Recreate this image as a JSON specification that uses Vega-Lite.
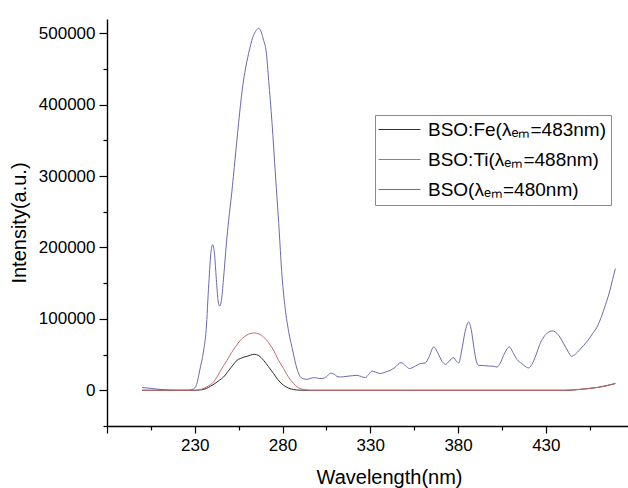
{
  "$schema": "https://vega.github.io/schema/vega-lite/v6.json",
  "width": 521,
  "height": 407,
  "autosize": {"type": "none"},
  "padding": {"left": 107, "top": 19, "right": 0, "bottom": 62},
  "background": "white",
  "config": {
    "view": {"stroke": null},
    "font": "Liberation Sans",
    "axis": {"domainColor": "#000", "domainWidth": 1.4, "tickColor": "#000", "tickWidth": 1.2, "grid": false, "labelColor": "#000", "titleColor": "#000", "labelFont": "Liberation Sans", "titleFont": "Liberation Sans", "titleFontWeight": "normal"}
  },
  "datasets": {
    "spectra": [
      {"wl": 200, "v": 3800, "s": "BSO(λₑₘ=480nm)"},
      {"wl": 204, "v": 3000, "s": "BSO(λₑₘ=480nm)"},
      {"wl": 208, "v": 1800, "s": "BSO(λₑₘ=480nm)"},
      {"wl": 212, "v": 800, "s": "BSO(λₑₘ=480nm)"},
      {"wl": 216, "v": 300, "s": "BSO(λₑₘ=480nm)"},
      {"wl": 220, "v": 100, "s": "BSO(λₑₘ=480nm)"},
      {"wl": 226, "v": 100, "s": "BSO(λₑₘ=480nm)"},
      {"wl": 229, "v": 1500, "s": "BSO(λₑₘ=480nm)"},
      {"wl": 231, "v": 8000, "s": "BSO(λₑₘ=480nm)"},
      {"wl": 233, "v": 30000, "s": "BSO(λₑₘ=480nm)"},
      {"wl": 235, "v": 55000, "s": "BSO(λₑₘ=480nm)"},
      {"wl": 236.5, "v": 85000, "s": "BSO(λₑₘ=480nm)"},
      {"wl": 238, "v": 150000, "s": "BSO(λₑₘ=480nm)"},
      {"wl": 239.3, "v": 195000, "s": "BSO(λₑₘ=480nm)"},
      {"wl": 240.2, "v": 204000, "s": "BSO(λₑₘ=480nm)"},
      {"wl": 241.2, "v": 192000, "s": "BSO(λₑₘ=480nm)"},
      {"wl": 242.3, "v": 155000, "s": "BSO(λₑₘ=480nm)"},
      {"wl": 243.3, "v": 125000, "s": "BSO(λₑₘ=480nm)"},
      {"wl": 244.2, "v": 118000, "s": "BSO(λₑₘ=480nm)"},
      {"wl": 245.3, "v": 128000, "s": "BSO(λₑₘ=480nm)"},
      {"wl": 246.5, "v": 160000, "s": "BSO(λₑₘ=480nm)"},
      {"wl": 248, "v": 205000, "s": "BSO(λₑₘ=480nm)"},
      {"wl": 249.3, "v": 238000, "s": "BSO(λₑₘ=480nm)"},
      {"wl": 251, "v": 275000, "s": "BSO(λₑₘ=480nm)"},
      {"wl": 253, "v": 325000, "s": "BSO(λₑₘ=480nm)"},
      {"wl": 255, "v": 375000, "s": "BSO(λₑₘ=480nm)"},
      {"wl": 257, "v": 420000, "s": "BSO(λₑₘ=480nm)"},
      {"wl": 258.5, "v": 445000, "s": "BSO(λₑₘ=480nm)"},
      {"wl": 260.7, "v": 472000, "s": "BSO(λₑₘ=480nm)"},
      {"wl": 263, "v": 494000, "s": "BSO(λₑₘ=480nm)"},
      {"wl": 265, "v": 504000, "s": "BSO(λₑₘ=480nm)"},
      {"wl": 266.3, "v": 507000, "s": "BSO(λₑₘ=480nm)"},
      {"wl": 267.5, "v": 504000, "s": "BSO(λₑₘ=480nm)"},
      {"wl": 269, "v": 492000, "s": "BSO(λₑₘ=480nm)"},
      {"wl": 270.8, "v": 472000, "s": "BSO(λₑₘ=480nm)"},
      {"wl": 272.1, "v": 434000, "s": "BSO(λₑₘ=480nm)"},
      {"wl": 274, "v": 375000, "s": "BSO(λₑₘ=480nm)"},
      {"wl": 276, "v": 300000, "s": "BSO(λₑₘ=480nm)"},
      {"wl": 277.8, "v": 235000, "s": "BSO(λₑₘ=480nm)"},
      {"wl": 279.7, "v": 160000, "s": "BSO(λₑₘ=480nm)"},
      {"wl": 281.5, "v": 115000, "s": "BSO(λₑₘ=480nm)"},
      {"wl": 283.5, "v": 82000, "s": "BSO(λₑₘ=480nm)"},
      {"wl": 285.4, "v": 60000, "s": "BSO(λₑₘ=480nm)"},
      {"wl": 287, "v": 42000, "s": "BSO(λₑₘ=480nm)"},
      {"wl": 288.5, "v": 28000, "s": "BSO(λₑₘ=480nm)"},
      {"wl": 290.1, "v": 19000, "s": "BSO(λₑₘ=480nm)"},
      {"wl": 292, "v": 16000, "s": "BSO(λₑₘ=480nm)"},
      {"wl": 294, "v": 15400, "s": "BSO(λₑₘ=480nm)"},
      {"wl": 296, "v": 16800, "s": "BSO(λₑₘ=480nm)"},
      {"wl": 297.7, "v": 17800, "s": "BSO(λₑₘ=480nm)"},
      {"wl": 300, "v": 17000, "s": "BSO(λₑₘ=480nm)"},
      {"wl": 302.5, "v": 16400, "s": "BSO(λₑₘ=480nm)"},
      {"wl": 305, "v": 19000, "s": "BSO(λₑₘ=480nm)"},
      {"wl": 307.5, "v": 24000, "s": "BSO(λₑₘ=480nm)"},
      {"wl": 309.5, "v": 22500, "s": "BSO(λₑₘ=480nm)"},
      {"wl": 311, "v": 19500, "s": "BSO(λₑₘ=480nm)"},
      {"wl": 313, "v": 18600, "s": "BSO(λₑₘ=480nm)"},
      {"wl": 316.7, "v": 19600, "s": "BSO(λₑₘ=480nm)"},
      {"wl": 320, "v": 20500, "s": "BSO(λₑₘ=480nm)"},
      {"wl": 322.4, "v": 21000, "s": "BSO(λₑₘ=480nm)"},
      {"wl": 325, "v": 19000, "s": "BSO(λₑₘ=480nm)"},
      {"wl": 327.2, "v": 17800, "s": "BSO(λₑₘ=480nm)"},
      {"wl": 329, "v": 22000, "s": "BSO(λₑₘ=480nm)"},
      {"wl": 331, "v": 27000, "s": "BSO(λₑₘ=480nm)"},
      {"wl": 333, "v": 25500, "s": "BSO(λₑₘ=480nm)"},
      {"wl": 335.7, "v": 23400, "s": "BSO(λₑₘ=480nm)"},
      {"wl": 338.5, "v": 25500, "s": "BSO(λₑₘ=480nm)"},
      {"wl": 341.4, "v": 28000, "s": "BSO(λₑₘ=480nm)"},
      {"wl": 344, "v": 32000, "s": "BSO(λₑₘ=480nm)"},
      {"wl": 347.5, "v": 38800, "s": "BSO(λₑₘ=480nm)"},
      {"wl": 350, "v": 34500, "s": "BSO(λₑₘ=480nm)"},
      {"wl": 352.4, "v": 30400, "s": "BSO(λₑₘ=480nm)"},
      {"wl": 355, "v": 33000, "s": "BSO(λₑₘ=480nm)"},
      {"wl": 358.5, "v": 37400, "s": "BSO(λₑₘ=480nm)"},
      {"wl": 361.4, "v": 38300, "s": "BSO(λₑₘ=480nm)"},
      {"wl": 363.5, "v": 47000, "s": "BSO(λₑₘ=480nm)"},
      {"wl": 366.1, "v": 60700, "s": "BSO(λₑₘ=480nm)"},
      {"wl": 368.5, "v": 52000, "s": "BSO(λₑₘ=480nm)"},
      {"wl": 371, "v": 40000, "s": "BSO(λₑₘ=480nm)"},
      {"wl": 372.8, "v": 36400, "s": "BSO(λₑₘ=480nm)"},
      {"wl": 375, "v": 41000, "s": "BSO(λₑₘ=480nm)"},
      {"wl": 377.2, "v": 45800, "s": "BSO(λₑₘ=480nm)"},
      {"wl": 379, "v": 41000, "s": "BSO(λₑₘ=480nm)"},
      {"wl": 380.4, "v": 38300, "s": "BSO(λₑₘ=480nm)"},
      {"wl": 382, "v": 55000, "s": "BSO(λₑₘ=480nm)"},
      {"wl": 384, "v": 82000, "s": "BSO(λₑₘ=480nm)"},
      {"wl": 386, "v": 95700, "s": "BSO(λₑₘ=480nm)"},
      {"wl": 387.5, "v": 85000, "s": "BSO(λₑₘ=480nm)"},
      {"wl": 389, "v": 60000, "s": "BSO(λₑₘ=480nm)"},
      {"wl": 390.5, "v": 40000, "s": "BSO(λₑₘ=480nm)"},
      {"wl": 391.7, "v": 35000, "s": "BSO(λₑₘ=480nm)"},
      {"wl": 395, "v": 34500, "s": "BSO(λₑₘ=480nm)"},
      {"wl": 398, "v": 34000, "s": "BSO(λₑₘ=480nm)"},
      {"wl": 400.3, "v": 33600, "s": "BSO(λₑₘ=480nm)"},
      {"wl": 402.2, "v": 32600, "s": "BSO(λₑₘ=480nm)"},
      {"wl": 404, "v": 38000, "s": "BSO(λₑₘ=480nm)"},
      {"wl": 406.5, "v": 52000, "s": "BSO(λₑₘ=480nm)"},
      {"wl": 409.2, "v": 60700, "s": "BSO(λₑₘ=480nm)"},
      {"wl": 411.5, "v": 52000, "s": "BSO(λₑₘ=480nm)"},
      {"wl": 413.6, "v": 43000, "s": "BSO(λₑₘ=480nm)"},
      {"wl": 416, "v": 38000, "s": "BSO(λₑₘ=480nm)"},
      {"wl": 418, "v": 34000, "s": "BSO(λₑₘ=480nm)"},
      {"wl": 420.2, "v": 31300, "s": "BSO(λₑₘ=480nm)"},
      {"wl": 422, "v": 36000, "s": "BSO(λₑₘ=480nm)"},
      {"wl": 424.5, "v": 50000, "s": "BSO(λₑₘ=480nm)"},
      {"wl": 426.5, "v": 64000, "s": "BSO(λₑₘ=480nm)"},
      {"wl": 428.8, "v": 74700, "s": "BSO(λₑₘ=480nm)"},
      {"wl": 431, "v": 80500, "s": "BSO(λₑₘ=480nm)"},
      {"wl": 433.6, "v": 83100, "s": "BSO(λₑₘ=480nm)"},
      {"wl": 435.5, "v": 81500, "s": "BSO(λₑₘ=480nm)"},
      {"wl": 437.3, "v": 77000, "s": "BSO(λₑₘ=480nm)"},
      {"wl": 440, "v": 66000, "s": "BSO(λₑₘ=480nm)"},
      {"wl": 442.5, "v": 55000, "s": "BSO(λₑₘ=480nm)"},
      {"wl": 444.6, "v": 47600, "s": "BSO(λₑₘ=480nm)"},
      {"wl": 447, "v": 51000, "s": "BSO(λₑₘ=480nm)"},
      {"wl": 449, "v": 56000, "s": "BSO(λₑₘ=480nm)"},
      {"wl": 451.6, "v": 63000, "s": "BSO(λₑₘ=480nm)"},
      {"wl": 454, "v": 70000, "s": "BSO(λₑₘ=480nm)"},
      {"wl": 456.5, "v": 79000, "s": "BSO(λₑₘ=480nm)"},
      {"wl": 459.2, "v": 88700, "s": "BSO(λₑₘ=480nm)"},
      {"wl": 461.5, "v": 102000, "s": "BSO(λₑₘ=480nm)"},
      {"wl": 464, "v": 120000, "s": "BSO(λₑₘ=480nm)"},
      {"wl": 466.5, "v": 140000, "s": "BSO(λₑₘ=480nm)"},
      {"wl": 468, "v": 155000, "s": "BSO(λₑₘ=480nm)"},
      {"wl": 469.6, "v": 170500, "s": "BSO(λₑₘ=480nm)"},

      {"wl": 200, "v": 0, "s": "BSO:Fe(λₑₘ=483nm)"},
      {"wl": 215, "v": 0, "s": "BSO:Fe(λₑₘ=483nm)"},
      {"wl": 230, "v": 0, "s": "BSO:Fe(λₑₘ=483nm)"},
      {"wl": 234, "v": 800, "s": "BSO:Fe(λₑₘ=483nm)"},
      {"wl": 236.5, "v": 2500, "s": "BSO:Fe(λₑₘ=483nm)"},
      {"wl": 238.9, "v": 5600, "s": "BSO:Fe(λₑₘ=483nm)"},
      {"wl": 241.5, "v": 9500, "s": "BSO:Fe(λₑₘ=483nm)"},
      {"wl": 244, "v": 14000, "s": "BSO:Fe(λₑₘ=483nm)"},
      {"wl": 246.4, "v": 18600, "s": "BSO:Fe(λₑₘ=483nm)"},
      {"wl": 248.5, "v": 25000, "s": "BSO:Fe(λₑₘ=483nm)"},
      {"wl": 250.5, "v": 31500, "s": "BSO:Fe(λₑₘ=483nm)"},
      {"wl": 252.5, "v": 37500, "s": "BSO:Fe(λₑₘ=483nm)"},
      {"wl": 254, "v": 42000, "s": "BSO:Fe(λₑₘ=483nm)"},
      {"wl": 256, "v": 44500, "s": "BSO:Fe(λₑₘ=483nm)"},
      {"wl": 258, "v": 46500, "s": "BSO:Fe(λₑₘ=483nm)"},
      {"wl": 259.8, "v": 47600, "s": "BSO:Fe(λₑₘ=483nm)"},
      {"wl": 262, "v": 49500, "s": "BSO:Fe(λₑₘ=483nm)"},
      {"wl": 263.9, "v": 50400, "s": "BSO:Fe(λₑₘ=483nm)"},
      {"wl": 266.5, "v": 48500, "s": "BSO:Fe(λₑₘ=483nm)"},
      {"wl": 269.2, "v": 42000, "s": "BSO:Fe(λₑₘ=483nm)"},
      {"wl": 272, "v": 33000, "s": "BSO:Fe(λₑₘ=483nm)"},
      {"wl": 274.9, "v": 23400, "s": "BSO:Fe(λₑₘ=483nm)"},
      {"wl": 277.5, "v": 14500, "s": "BSO:Fe(λₑₘ=483nm)"},
      {"wl": 280.6, "v": 7000, "s": "BSO:Fe(λₑₘ=483nm)"},
      {"wl": 283.5, "v": 3000, "s": "BSO:Fe(λₑₘ=483nm)"},
      {"wl": 286.3, "v": 1000, "s": "BSO:Fe(λₑₘ=483nm)"},
      {"wl": 290, "v": 200, "s": "BSO:Fe(λₑₘ=483nm)"},
      {"wl": 295, "v": 0, "s": "BSO:Fe(λₑₘ=483nm)"},
      {"wl": 350, "v": 0, "s": "BSO:Fe(λₑₘ=483nm)"},
      {"wl": 400, "v": 0, "s": "BSO:Fe(λₑₘ=483nm)"},
      {"wl": 440, "v": 0, "s": "BSO:Fe(λₑₘ=483nm)"},
      {"wl": 445, "v": 300, "s": "BSO:Fe(λₑₘ=483nm)"},
      {"wl": 450, "v": 1300, "s": "BSO:Fe(λₑₘ=483nm)"},
      {"wl": 455, "v": 2600, "s": "BSO:Fe(λₑₘ=483nm)"},
      {"wl": 460, "v": 4300, "s": "BSO:Fe(λₑₘ=483nm)"},
      {"wl": 465, "v": 6800, "s": "BSO:Fe(λₑₘ=483nm)"},
      {"wl": 469.6, "v": 9400, "s": "BSO:Fe(λₑₘ=483nm)"},

      {"wl": 200, "v": 0, "s": "BSO:Ti(λₑₘ=488nm)"},
      {"wl": 215, "v": 0, "s": "BSO:Ti(λₑₘ=488nm)"},
      {"wl": 230, "v": 0, "s": "BSO:Ti(λₑₘ=488nm)"},
      {"wl": 234, "v": 1500, "s": "BSO:Ti(λₑₘ=488nm)"},
      {"wl": 237, "v": 5000, "s": "BSO:Ti(λₑₘ=488nm)"},
      {"wl": 240.7, "v": 11700, "s": "BSO:Ti(λₑₘ=488nm)"},
      {"wl": 243, "v": 20000, "s": "BSO:Ti(λₑₘ=488nm)"},
      {"wl": 245.5, "v": 31000, "s": "BSO:Ti(λₑₘ=488nm)"},
      {"wl": 248.4, "v": 42000, "s": "BSO:Ti(λₑₘ=488nm)"},
      {"wl": 251, "v": 53000, "s": "BSO:Ti(λₑₘ=488nm)"},
      {"wl": 253.5, "v": 62000, "s": "BSO:Ti(λₑₘ=488nm)"},
      {"wl": 256, "v": 70000, "s": "BSO:Ti(λₑₘ=488nm)"},
      {"wl": 258.5, "v": 75500, "s": "BSO:Ti(λₑₘ=488nm)"},
      {"wl": 261, "v": 79000, "s": "BSO:Ti(λₑₘ=488nm)"},
      {"wl": 263.9, "v": 80300, "s": "BSO:Ti(λₑₘ=488nm)"},
      {"wl": 266.5, "v": 79000, "s": "BSO:Ti(λₑₘ=488nm)"},
      {"wl": 269.2, "v": 74700, "s": "BSO:Ti(λₑₘ=488nm)"},
      {"wl": 272, "v": 67000, "s": "BSO:Ti(λₑₘ=488nm)"},
      {"wl": 274.9, "v": 56000, "s": "BSO:Ti(λₑₘ=488nm)"},
      {"wl": 277.5, "v": 43000, "s": "BSO:Ti(λₑₘ=488nm)"},
      {"wl": 280.6, "v": 30400, "s": "BSO:Ti(λₑₘ=488nm)"},
      {"wl": 283.5, "v": 18000, "s": "BSO:Ti(λₑₘ=488nm)"},
      {"wl": 286.3, "v": 9400, "s": "BSO:Ti(λₑₘ=488nm)"},
      {"wl": 288.5, "v": 4500, "s": "BSO:Ti(λₑₘ=488nm)"},
      {"wl": 290.1, "v": 2400, "s": "BSO:Ti(λₑₘ=488nm)"},
      {"wl": 293, "v": 800, "s": "BSO:Ti(λₑₘ=488nm)"},
      {"wl": 296, "v": 0, "s": "BSO:Ti(λₑₘ=488nm)"},
      {"wl": 350, "v": 0, "s": "BSO:Ti(λₑₘ=488nm)"},
      {"wl": 400, "v": 0, "s": "BSO:Ti(λₑₘ=488nm)"},
      {"wl": 440, "v": 0, "s": "BSO:Ti(λₑₘ=488nm)"},
      {"wl": 445, "v": 400, "s": "BSO:Ti(λₑₘ=488nm)"},
      {"wl": 450, "v": 1500, "s": "BSO:Ti(λₑₘ=488nm)"},
      {"wl": 455, "v": 2800, "s": "BSO:Ti(λₑₘ=488nm)"},
      {"wl": 460, "v": 4200, "s": "BSO:Ti(λₑₘ=488nm)"},
      {"wl": 465, "v": 6500, "s": "BSO:Ti(λₑₘ=488nm)"},
      {"wl": 469.6, "v": 10000, "s": "BSO:Ti(λₑₘ=488nm)"}
    ]
  },
  "data": {"name": "spectra"},
  "layer": [
    {
      "mark": {"type": "line", "strokeWidth": 1, "interpolate": "monotone", "clip": true},
      "encoding": {
        "x": {
          "field": "wl", "type": "quantitative",
          "scale": {"domain": [180, 476.8], "nice": false, "zero": false},
          "axis": {"orient": "bottom", "values": [180, 230, 280, 330, 380, 430], "labelExpr": "datum.value == 180 ? '' : datum.label", "tickSize": 7, "labelFontSize": 17, "labelPadding": 4, "title": "Wavelength(nm)", "titleFontSize": 20, "titleX": 282, "titleY": 57, "titleBaseline": "alphabetic", "titleAnchor": "middle", "titleAlign": "center"}
        },
        "y": {
          "field": "v", "type": "quantitative",
          "scale": {"domain": [-50000, 520000], "nice": false, "zero": false},
          "axis": {"orient": "left", "values": [0, 100000, 200000, 300000, 400000, 500000], "format": "d", "tickSize": 8, "labelFontSize": 17, "labelPadding": 4, "title": "Intensity(a.u.)", "titleFontSize": 20, "titlePadding": 9}
        },
        "color": {
          "field": "s", "type": "nominal",
          "scale": {"domain": ["BSO:Fe(λₑₘ=483nm)", "BSO:Ti(λₑₘ=488nm)", "BSO(λₑₘ=480nm)"], "range": ["#2e2e2e", "#c46c6c", "#6a6aae"]},
          "legend": {"orient": "none", "legendX": 268, "legendY": 96, "title": null, "symbolType": "M-3.818,0H3.818", "symbolSize": 121, "symbolStrokeWidth": 1, "symbolOffset": 10, "labelFontSize": 19, "labelFont": "Liberation Sans", "labelColor": "#000", "labelOffset": 19, "labelLimit": 400, "rowPadding": 10, "padding": 5, "strokeColor": "#8a8a8a", "fillColor": "white"}
        }
      }
    },
    {
      "mark": {"type": "line", "strokeOpacity": 0},
      "encoding": {
        "x": {"field": "wl", "type": "quantitative", "axis": {"orient": "bottom", "values": [205, 255, 305, 355, 405, 455], "labels": false, "domain": false, "tickSize": 4, "title": null}},
        "y": {"field": "v", "type": "quantitative", "axis": {"orient": "left", "values": [-50000, 50000, 150000, 250000, 350000, 450000], "labels": false, "domain": false, "tickSize": 4, "title": null}},
        "detail": {"field": "s"}
      }
    }
  ],
  "resolve": {"axis": {"x": "independent", "y": "independent"}}
}
